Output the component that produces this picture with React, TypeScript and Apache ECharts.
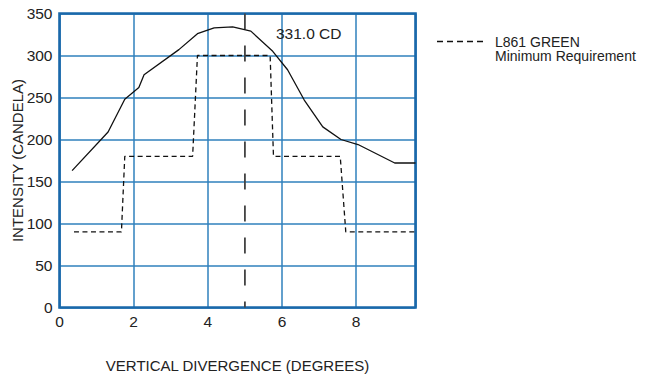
import React, { useEffect, useRef } from "react";
import * as echarts from "echarts";

// Measured intensity curve (degrees, candela)
const curveX = [0.34, 1.31, 1.76, 2.14, 2.28, 3.22, 3.72, 4.17, 4.67, 5.16, 5.75, 6.15, 6.6, 7.1, 7.59, 8.05, 9.04, 9.6];
const curveY = [163, 209, 248, 262, 277, 307, 326, 333, 334, 329, 305, 283, 247, 215, 200, 194, 172, 172];

// Minimum requirement (step)
const reqX = [0.39, 1.67, 1.76, 3.59, 3.72, 5.68, 5.77, 7.57, 7.72, 9.6];
const reqY = [90, 90, 180, 180, 300, 300, 180, 180, 90, 90];

// Vertical marker at peak
const markerX = 5;
const markerRange = [350, 0];
const peakLabel = "331.0 CD";

const xTicks = { min: 0, max: 9.6, interval: 2 };
const yTicks = { min: 0, max: 350, interval: 50 };

const seriesName = "L861 GREEN";
const seriesSub = "Minimum Requirement";
const xTitle = "VERTICAL DIVERGENCE (DEGREES)";
const yTitle = "INTENSITY (CANDELA)";

const FONT = "'Liberation Sans', Arial, Helvetica, sans-serif";
const TXT = "#222";

export default function App() {
  const ref = useRef<HTMLDivElement>(null);
  useEffect(() => {
    if (!ref.current) return;
    const chart = echarts.init(ref.current, undefined, { renderer: "svg" });
    chart.setOption({
      animation: false,
      backgroundColor: "#ffffff",
      textStyle: { fontFamily: FONT },
      grid: {
        left: 59.5,
        right: 242.5,
        top: 13.5,
        bottom: 67.5,
        containLabel: false,
        outerBoundsMode: "none",
        show: true,
        borderColor: "#1a68aa",
        borderWidth: 2.6,
        backgroundColor: "transparent",
        z: 3,
      },
      xAxis: {
        type: "value",
        min: xTicks.min,
        max: xTicks.max,
        interval: xTicks.interval,
        axisLine: { show: false },
        axisTick: { show: false },
        splitLine: { show: true, lineStyle: { color: "#2f80bd", width: 1.5 } },
        axisLabel: {
          color: TXT,
          fontSize: 15.5,
          fontFamily: FONT,
          margin: 6,
          showMaxLabel: false,
        },
        name: xTitle,
        nameLocation: "middle",
        nameGap: 50,
        nameMoveOverlap: false,
        nameTextStyle: { color: TXT, fontSize: 15, fontFamily: FONT },
      },
      yAxis: {
        type: "value",
        min: yTicks.min,
        max: yTicks.max,
        interval: yTicks.interval,
        axisLine: { show: false },
        axisTick: { show: false },
        splitLine: { show: true, lineStyle: { color: "#2f80bd", width: 1.5 } },
        axisLabel: { color: TXT, fontSize: 15.5, fontFamily: FONT, margin: 7 },
        name: yTitle,
        nameLocation: "middle",
        nameGap: 35,
        nameMoveOverlap: false,
        nameTextStyle: { color: TXT, fontSize: 15, fontFamily: FONT },
      },
      series: [
        {
          type: "line",
          name: "Measured",
          data: curveX.map((x, i) => [x, curveY[i]]),
          showSymbol: false,
          symbol: "none",
          lineStyle: { color: "#111", width: 1.3 },
          z: 5,
        },
        {
          type: "line",
          name: seriesName,
          data: reqX.map((x, i) => [x, reqY[i]]),
          showSymbol: false,
          symbol: "none",
          lineStyle: { color: "#111", width: 1.3, type: [5, 3.5] },
          z: 5,
        },
        {
          type: "line",
          name: "Peak",
          data: markerRange.map((y) => [markerX, y]),
          showSymbol: false,
          symbol: "none",
          lineStyle: { color: "#444", width: 1.8, type: [16, 16] },
          z: 4,
        },
      ],
      graphic: [
        {
          type: "text",
          x: 276,
          y: 33,
          style: {
            text: peakLabel,
            fill: TXT,
            font: `15.5px ${FONT}`,
            verticalAlign: "middle",
            align: "left",
          },
          z: 10,
        },
        {
          type: "line",
          shape: { x1: 437, y1: 41.5, x2: 484, y2: 41.5 },
          style: { stroke: "#111", lineWidth: 1.3, lineDash: [6, 4] },
        },
        {
          type: "text",
          x: 495,
          y: 41.5,
          style: {
            text: seriesName,
            fill: TXT,
            font: `14px ${FONT}`,
            verticalAlign: "middle",
            align: "left",
          },
        },
        {
          type: "text",
          x: 495,
          y: 56,
          style: {
            text: seriesSub,
            fill: TXT,
            font: `14px ${FONT}`,
            verticalAlign: "middle",
            align: "left",
          },
        },
      ],
    });
    return () => chart.dispose();
  }, []);
  return <div ref={ref} style={{ width: 658, height: 375, position: "absolute", left: 0, top: 0 }} />;
}
